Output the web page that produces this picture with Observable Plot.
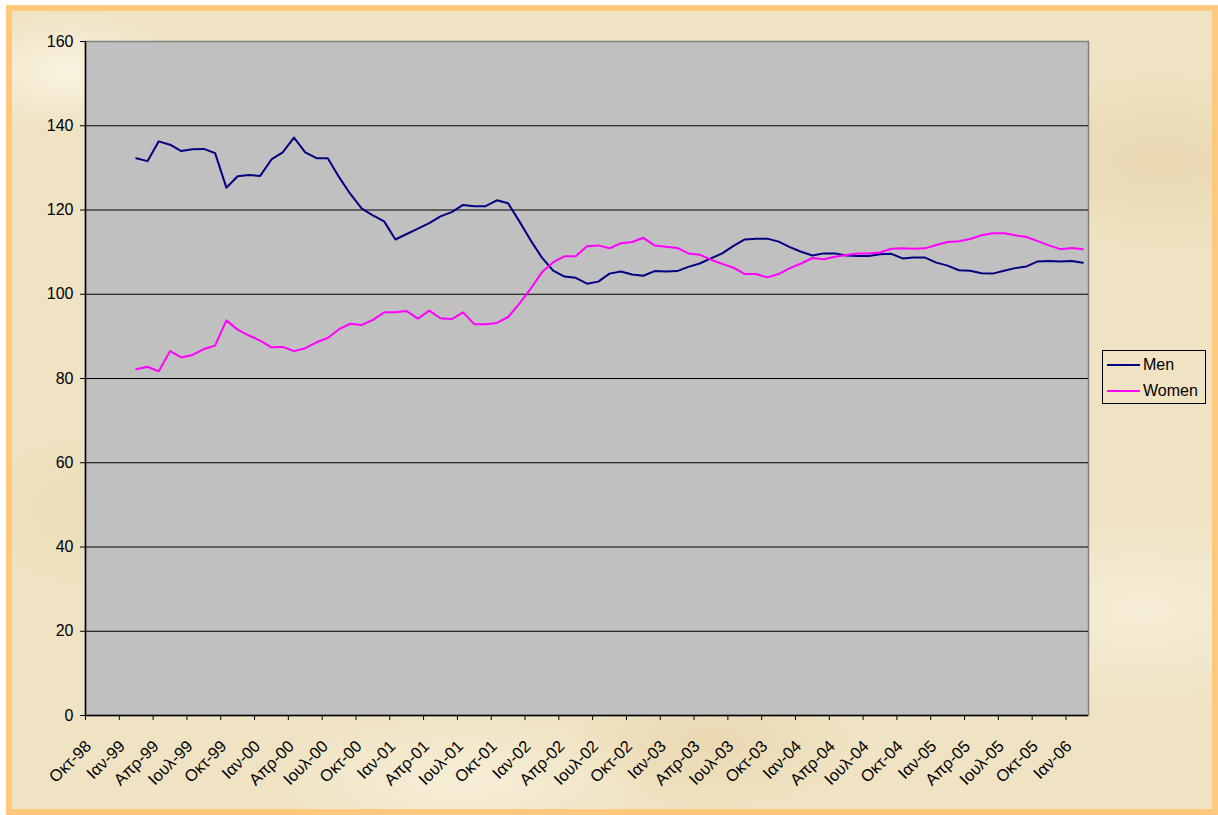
<!DOCTYPE html>
<html>
<head>
<meta charset="utf-8">
<script src="https://cdn.jsdelivr.net/npm/d3@7"></script>
<script src="https://cdn.jsdelivr.net/npm/@observablehq/plot@0.6"></script>
<style>
  html, body { margin: 0; padding: 0; background: #fff; width: 1218px; height: 815px; overflow: hidden; }
  #paper {
    position: absolute; left: 6px; top: 5px; width: 1200px; height: 798px;
    border: 6px solid #fec97d;
    background-color: #efe3c3;
    background-image:
      radial-gradient(ellipse 120px 60px at 60px 60px, rgba(255,250,235,0.7), rgba(255,250,235,0) 100%),
      radial-gradient(ellipse 160px 80px at 300px 400px, rgba(226,200,150,0.45), rgba(226,200,150,0) 100%),
      radial-gradient(ellipse 140px 70px at 700px 730px, rgba(230,205,160,0.5), rgba(230,205,160,0) 100%),
      radial-gradient(ellipse 180px 90px at 1150px 150px, rgba(228,204,158,0.5), rgba(228,204,158,0) 100%),
      radial-gradient(ellipse 200px 100px at 1130px 600px, rgba(250,244,225,0.6), rgba(250,244,225,0) 100%),
      radial-gradient(ellipse 150px 80px at 100px 500px, rgba(232,210,165,0.45), rgba(232,210,165,0) 100%),
      radial-gradient(ellipse 200px 70px at 450px 770px, rgba(252,246,228,0.6), rgba(252,246,228,0) 100%);
  }
  #chart { position: absolute; left: 0; top: 0; }
  #legend {
    position: absolute; left: 1102px; top: 350px; width: 102px; height: 52px;
    border: 1px solid #000; font-family: "Liberation Sans", Arial, sans-serif; font-size: 16px; color: #000;
  }
  #legend .row { position: absolute; left: 4px; height: 20px; display: flex; align-items: center; }
  #legend .sw { width: 33px; height: 2px; margin-right: 3px; }
</style>
</head>
<body>
<div id="paper"></div>
<div id="chart"></div>
<div id="legend">
  <div class="row" style="top:4px"><div class="sw" style="background:#000080"></div><span>Men</span></div>
  <div class="row" style="top:30px"><div class="sw" style="background:#ff00ff"></div><span>Women</span></div>
</div>
<script>
// Quarterly tick labels, starting October 1998 (month index 0), every 3 months
const tickLabels = [
  "Οκτ-98",
  "Ιαν-99","Απρ-99","Ιουλ-99","Οκτ-99",
  "Ιαν-00","Απρ-00","Ιουλ-00","Οκτ-00",
  "Ιαν-01","Απρ-01","Ιουλ-01","Οκτ-01",
  "Ιαν-02","Απρ-02","Ιουλ-02","Οκτ-02",
  "Ιαν-03","Απρ-03","Ιουλ-03","Οκτ-03",
  "Ιαν-04","Απρ-04","Ιουλ-04","Οκτ-04",
  "Ιαν-05","Απρ-05","Ιουλ-05","Οκτ-05",
  "Ιαν-06"
];
const monthsOnAxis = 89;      // Oct-98 .. Feb-06 categories
const firstMonth = 4;         // first observation: Feb-99
const yTicks = [0, 20, 40, 60, 80, 100, 120, 140, 160];

// Monthly series (Feb-99 .. Feb-06)
const men = [
  132.3,131.6,136.3,135.5,134.0,134.4,134.5,133.5,125.3,128.0,128.3,128.1,
  132.0,133.7,137.2,133.7,132.3,132.3,127.8,123.8,120.4,118.7,117.3,113.0,
  114.3,115.6,116.9,118.5,119.5,121.2,120.9,120.9,122.3,121.6,117.3,112.8,
  108.7,105.6,104.2,103.9,102.5,103.0,104.9,105.4,104.7,104.4,105.5,105.4,
  105.5,106.5,107.3,108.5,109.7,111.5,113.0,113.2,113.2,112.5,111.2,110.1,
  109.2,109.7,109.7,109.2,109.1,109.1,109.5,109.6,108.5,108.7,108.7,107.5,
  106.8,105.7,105.6,105.0,104.9,105.6,106.2,106.6,107.8,107.9,107.8,107.9,
  107.5
];
const women = [
  82.2,82.8,81.7,86.5,85.0,85.6,87.0,87.8,93.8,91.6,90.2,89.0,
  87.4,87.5,86.5,87.2,88.6,89.6,91.7,93.0,92.7,93.9,95.7,95.7,
  96.0,94.2,96.1,94.3,94.1,95.7,92.9,92.9,93.2,94.6,97.8,101.3,
  105.2,107.6,109.0,109.0,111.4,111.6,110.9,112.1,112.4,113.4,111.6,111.3,
  111.0,109.7,109.4,108.2,107.2,106.3,104.8,104.8,104.0,104.8,106.2,107.3,
  108.6,108.3,108.9,109.3,109.7,109.7,109.9,110.8,110.9,110.8,110.9,111.7,
  112.4,112.6,113.1,114.0,114.5,114.5,114.0,113.6,112.6,111.6,110.7,111.0,
  110.7
];

const rows = [];
men.forEach((v, i) => rows.push({series: "Men", m: firstMonth + i + 0.5, v}));
women.forEach((v, i) => rows.push({series: "Women", m: firstMonth + i + 0.5, v}));

const font = "Liberation Sans, Arial, sans-serif";

const chart = Plot.plot({
  width: 1218,
  height: 815,
  marginLeft: 85,
  marginRight: 130,
  marginTop: 41,
  marginBottom: 100,
  style: {background: "transparent", fontFamily: font, fontSize: "15.5px", color: "#000", overflow: "visible"},
  x: {domain: [0, monthsOnAxis]},
  y: {domain: [0, 160]},
  color: {domain: ["Men", "Women"], range: ["#000080", "#ff00ff"]},
  marks: [
    Plot.frame({fill: "#c0c0c0", stroke: "#808080", strokeWidth: 1.5}),
    Plot.ruleY(yTicks.filter(d => d > 0 && d < 160), {stroke: "#000", strokeWidth: 1}),
    Plot.line(rows, {x: "m", y: "v", z: "series", stroke: "series", strokeWidth: 2, curve: "linear"}),
    Plot.ruleY([0], {stroke: "#000", strokeWidth: 1.5}),
    Plot.ruleX([0], {stroke: "#000", strokeWidth: 1.5}),
    Plot.axisY({ticks: yTicks, tickSize: 5, tickPadding: 7, label: null, tickFormat: d => String(d), fontSize: 16}),
    Plot.axisX({
      ticks: d3.range(0, tickLabels.length).map(i => i * 3),
      tickFormat: d => tickLabels[d / 3],
      tickSize: 5, tickPadding: 3, label: null, text: null
    }),
    Plot.axisX({
      ticks: d3.range(0, tickLabels.length).map(i => i * 3),
      tickFormat: d => tickLabels[d / 3],
      tickSize: 0, tickPadding: 3, tickRotate: -45, label: null, fontSize: 16.5, dy: 25, dx: 3
    })
  ]
});
document.getElementById("chart").appendChild(chart);
</script>
</body>
</html>
